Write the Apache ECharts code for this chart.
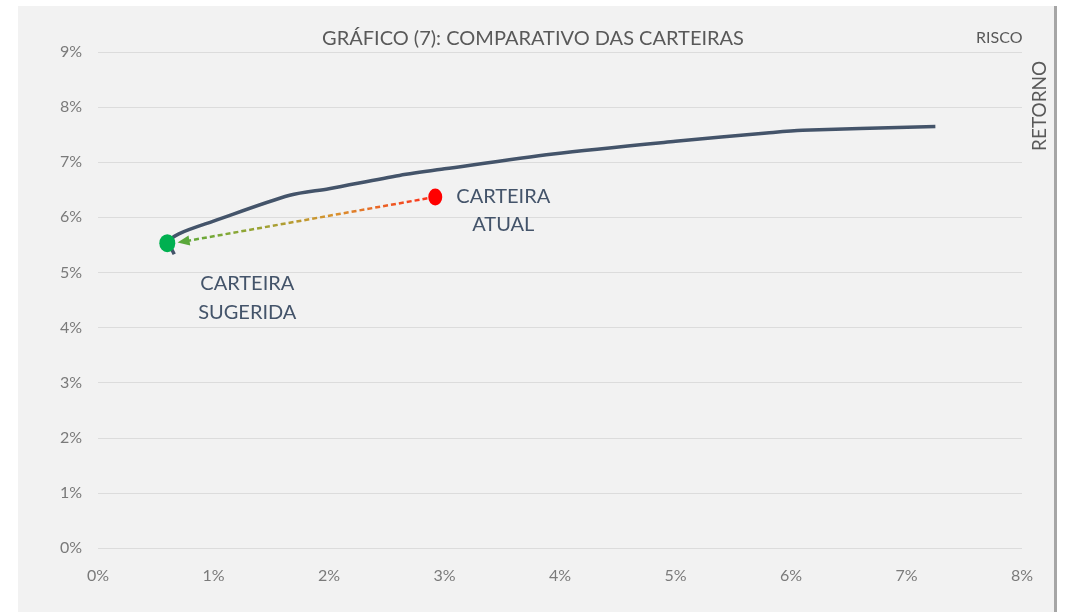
<!DOCTYPE html>
<html>
<head>
<meta charset="utf-8">
<script src="https://cdn.jsdelivr.net/npm/echarts@6/dist/echarts.min.js"></script>
<style>
  html, body { margin: 0; padding: 0; background: #ffffff; }
  #chart { width: 1066px; height: 612px; }
</style>
</head>
<body>
<div id="chart"></div>
<script>
// fronteira eficiente (risco x retorno, em %)
const frontierRisk = [0.66, 0.62, 0.70, 1.0, 1.66, 2.0, 2.61, 3.0, 3.94, 5.0, 5.79, 6.1, 7.25];
const frontierReturn = [5.33, 5.55, 5.70, 5.93, 6.40, 6.52, 6.76, 6.88, 7.15, 7.38, 7.53, 7.58, 7.65];

// carteiras
const currentPortfolio = [2.92, 6.37];
const suggestedPortfolio = [0.60, 5.53];
const arrowEnd = [0.74, 5.56];

const xTicks = [0, 8, 1];
const yTicks = [0, 9, 1];

const chart = echarts.init(document.getElementById("chart"));

const frontier = frontierRisk.map((r, i) => [r, frontierReturn[i]]);
const textColor = "#44546a";
const axisColor = "#7a7a7a";

chart.setOption({
  backgroundColor: "#ffffff",
  animation: false,
  textStyle: { fontFamily: "Lato" },
  graphic: [
    {
      type: "rect",
      z: -10,
      shape: { x: 18, y: 6, width: 1037, height: 606 },
      style: { fill: "#f2f2f2" },
    },
    {
      type: "rect",
      z: -9,
      shape: { x: 1054, y: 6, width: 3, height: 606 },
      style: { fill: "#a6a6a6" },
    },
    {
      type: "text",
      left: 976,
      top: 30,
      style: { text: "RISCO", fill: "#595959", font: "16px Lato" },
    },
    {
      type: "text",
      x: 1030,
      y: 151,
      rotation: Math.PI / 2,
      style: { text: "RETORNO", fill: "#595959", font: "19px Lato" },
    },
  ],
  title: {
    text: "GRÁFICO (7): COMPARATIVO DAS CARTEIRAS",
    left: "center",
    top: 24,
    textStyle: { color: "#595959", fontSize: 20, fontWeight: "normal", fontFamily: "Lato" },
  },
  grid: { left: 98, right: 44, top: 52, bottom: 64 },
  xAxis: {
    type: "value",
    min: xTicks[0],
    max: xTicks[1],
    interval: xTicks[2],
    axisLine: { show: false },
    axisTick: { show: false },
    splitLine: { show: false },
    axisLabel: { formatter: "{value}%", color: axisColor, fontSize: 16, margin: 20 },
  },
  yAxis: {
    type: "value",
    min: yTicks[0],
    max: yTicks[1],
    interval: yTicks[2],
    axisLine: { show: false },
    axisTick: { show: false },
    splitLine: { lineStyle: { color: "#dcdcdc", width: 1 } },
    axisLabel: { formatter: "{value}%", color: axisColor, fontSize: 16, margin: 16 },
  },
  series: [
    {
      name: "Fronteira",
      type: "line",
      data: frontier,
      smooth: 0.3,
      showSymbol: false,
      lineStyle: { color: "#44546a", width: 3.5 },
      z: 3,
    },
    {
      name: "Seta",
      type: "lines",
      coordinateSystem: "cartesian2d",
      symbol: ["none", "none"],
      data: [{ coords: [currentPortfolio, arrowEnd] }],
      lineStyle: {
        type: [5, 3],
        width: 2.5,
        opacity: 1,
        color: new echarts.graphic.LinearGradient(0, 0, 1, 0, [
          { offset: 0, color: "#5aa83a" },
          { offset: 0.2, color: "#86a836" },
          { offset: 0.6, color: "#d9922e" },
          { offset: 1, color: "#ff2a1a" },
        ]),
      },
      z: 4,
    },
    {
      // ponta da seta
      name: "Ponta",
      type: "scatter",
      data: [arrowEnd],
      symbol: "triangle",
      symbolSize: [10, 12],
      symbolRotate: 100,
      itemStyle: { color: "#5aa83a", opacity: 1 },
      z: 4,
    },
    {
      name: "Atual",
      type: "scatter",
      data: [currentPortfolio],
      symbolSize: [14, 17],
      itemStyle: { color: "#ff0000", opacity: 1 },
      label: {
        show: true,
        position: "inside",
        offset: [68, 14],
        align: "center",
        verticalAlign: "middle",
        formatter: "CARTEIRA\nATUAL",
        color: textColor,
        fontSize: 20,
        lineHeight: 28,
      },
      z: 5,
    },
    {
      name: "Sugerida",
      type: "scatter",
      data: [suggestedPortfolio],
      symbolSize: [16, 18],
      itemStyle: { color: "#00b050", opacity: 1 },
      label: {
        show: true,
        position: "inside",
        offset: [80, 55],
        align: "center",
        verticalAlign: "middle",
        formatter: "CARTEIRA\nSUGERIDA",
        color: textColor,
        fontSize: 20,
        lineHeight: 29,
      },
      z: 5,
    },
  ],
});
</script>
</body>
</html>
